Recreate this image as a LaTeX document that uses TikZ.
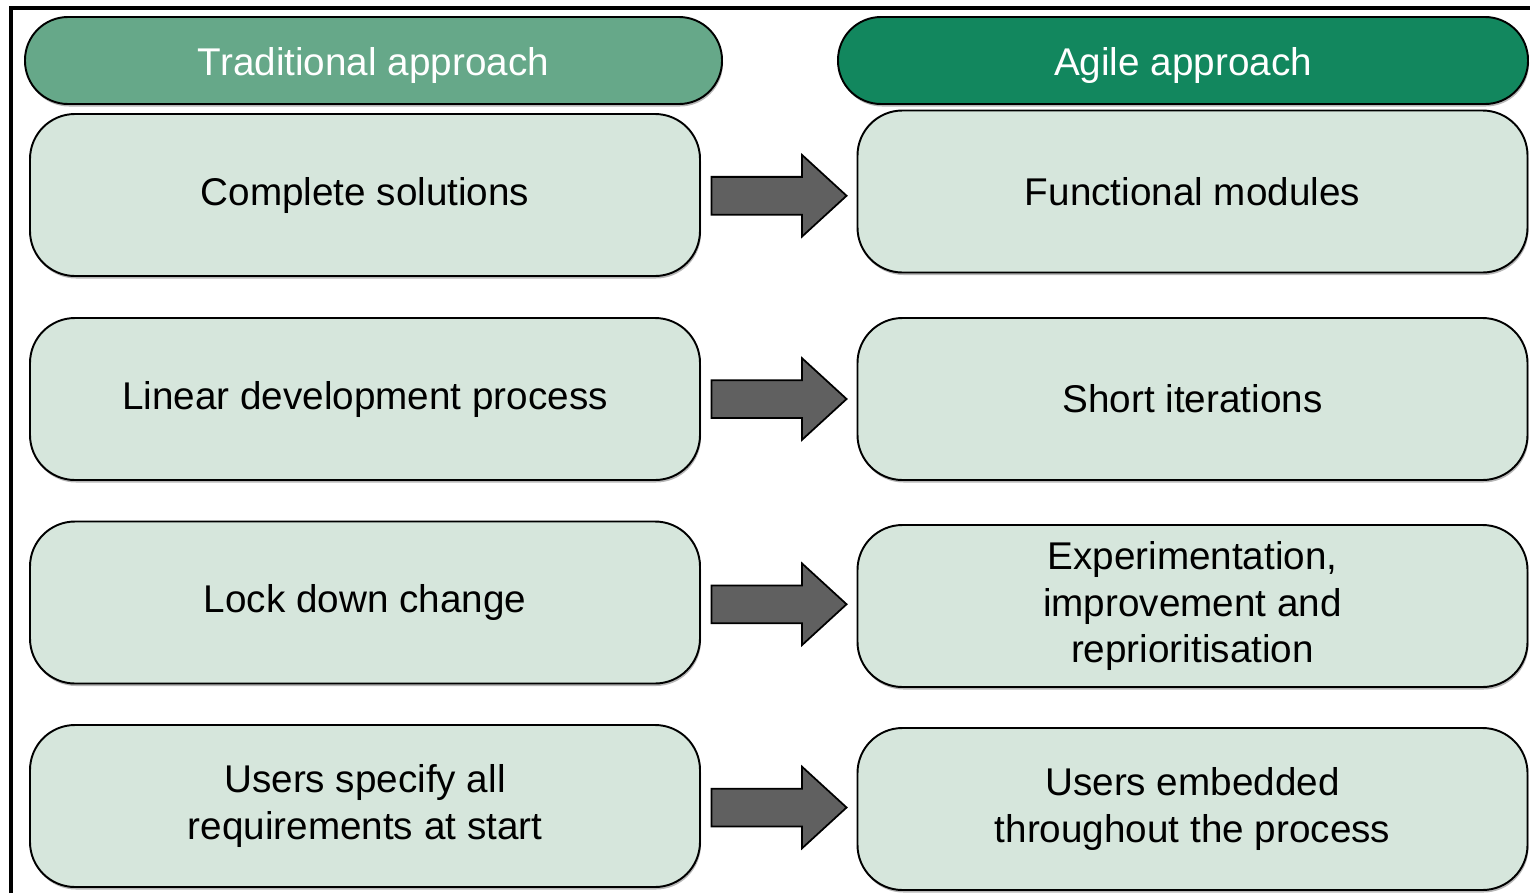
\documentclass[tikz,border=0pt]{standalone}
\usepackage{fontspec}
\setmainfont{Liberation Sans}
\usetikzlibrary{shapes.arrows,shadows,calc}

\begin{document}
\begin{tikzpicture}[
    boite/.style={draw=black, line width=1.1pt, fill=fondboite, rounded corners=0.9cm,
      minimum width=13.4cm, minimum height=3.24cm, align=center,
      font=\fontsize{22}{26.7}\selectfont,
      drop shadow={shadow xshift=0.02cm, shadow yshift=-0.05cm, fill=gray!80, opacity=0.7}},
    titre/.style={draw=black, line width=1.1pt, rounded corners=0.86cm,
      minimum height=1.74cm, text=white, font=\fontsize{22}{26.7}\selectfont,
      text height=0.76cm, text depth=0.16cm,
      drop shadow={shadow xshift=0.02cm, shadow yshift=-0.05cm, fill=gray!80, opacity=0.7}},
    fleche/.style={single arrow, draw=black, line width=1pt, fill=gris,
      inner sep=0.36cm, minimum height=2.7cm, single arrow head extend=0.44cm,
      single arrow tip angle=85}
  ]
  % Définir les couleurs du schéma
  \definecolor{fondboite}{RGB}{214,230,220}
  \definecolor{vertclair}{RGB}{102,168,137}
  \definecolor{vertfonce}{RGB}{18,135,94}
  \definecolor{gris}{RGB}{96,96,96}

  % Cadre de la page
  \useasboundingbox (0,0) rectangle (30.6,-17.86);
  \draw[line width=2pt] (0.22,-17.86) -- (0.22,-0.16) -- (30.6,-0.16);

  % Les deux titres
  \node[titre, fill=vertclair, minimum width=13.94cm] at (7.47,-1.21) (trad) {Traditional approach};
  \node[titre, fill=vertfonce, minimum width=13.8cm] at (23.66,-1.21) (agile) {Agile approach};

  % Colonne de gauche
  \node[boite] at (7.3,-3.9) (l1) {Complete solutions};
  \node[boite] at (7.3,-7.98) (l2) {Linear development process};
  \node[boite] at (7.3,-12.05) (l3) {Lock down change};
  \node[boite] at (7.3,-16.12) (l4) {Users specify all\\requirements at start};

  % Colonne de droite
  \node[boite] at (23.85,-3.83) (r1) {Functional modules};
  \node[boite] at (23.85,-7.98) (r2) {Short iterations};
  \node[boite] at (23.85,-12.12) (r3) {Experimentation,\\improvement and\\reprioritisation};
  \node[boite] at (23.85,-16.18) (r4) {Users embedded\\throughout the process};

  % Les flèches entre les colonnes
  \node[fleche] at ($(l1.east)!0.5!(r1.west)+(-0.2,-0.05)$) (f1) {};
  \node[fleche] at ($(l2.east)!0.5!(r2.west)+(-0.2,0)$) (f2) {};
  \node[fleche] at ($(l3.east)!0.5!(r3.west)+(-0.2,0)$) (f3) {};
  \node[fleche] at ($(l4.east)!0.5!(r4.west)+(-0.2,0)$) (f4) {};
\end{tikzpicture}
\end{document}
